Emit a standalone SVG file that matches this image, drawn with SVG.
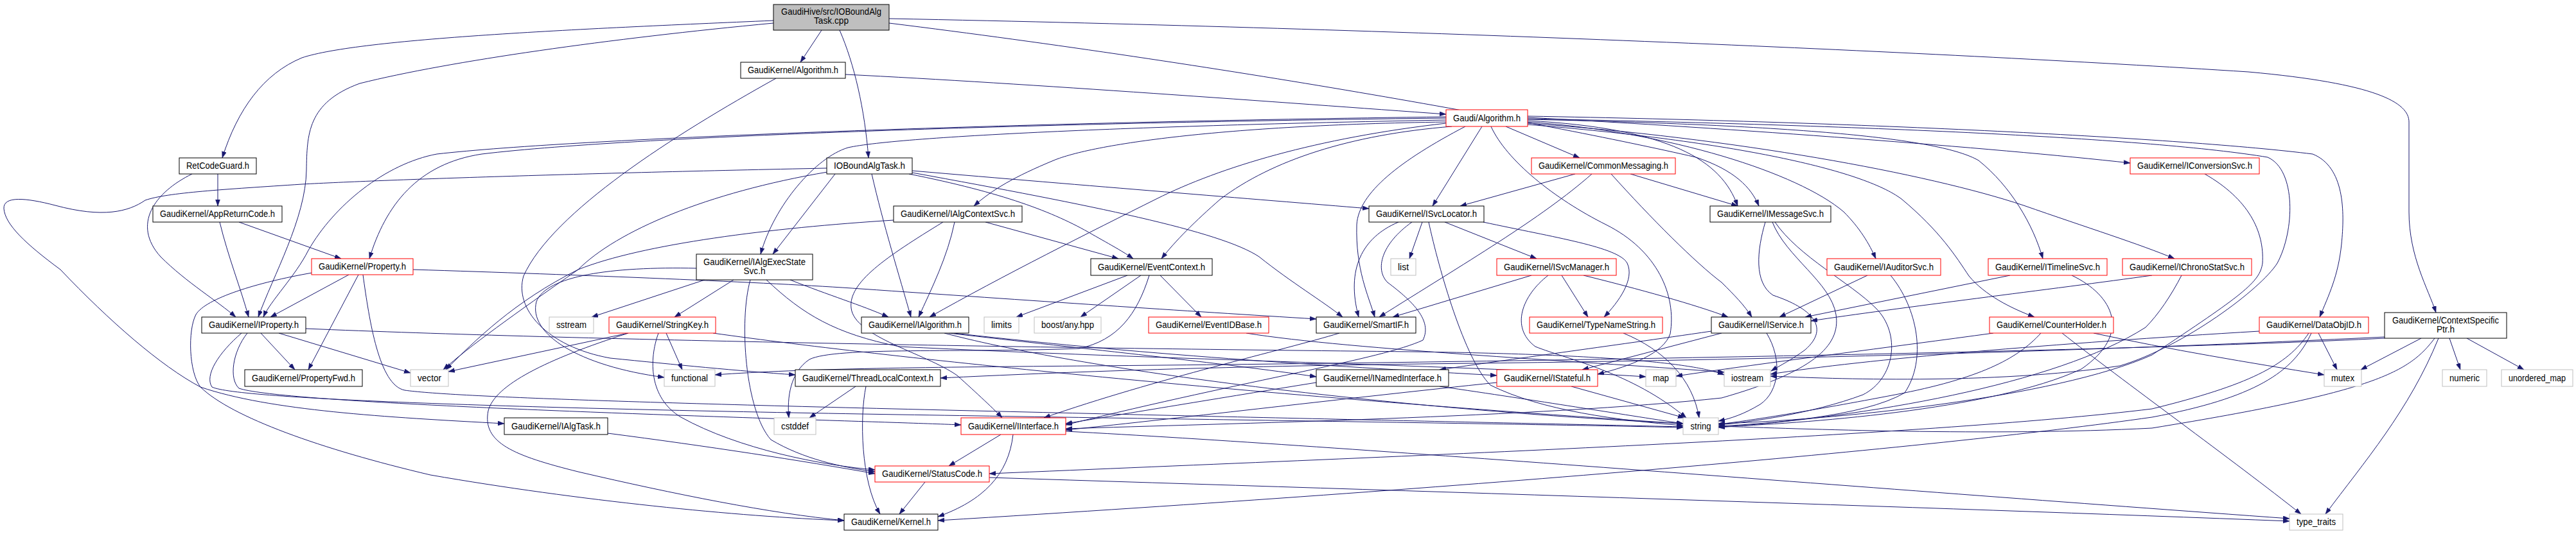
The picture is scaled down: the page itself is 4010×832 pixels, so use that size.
<svg xmlns="http://www.w3.org/2000/svg" width="4010" height="832" viewBox="0 0 4010 832">
<style>
.n rect{fill:#fff;stroke:#000;stroke-width:1}
.r rect{stroke:#f00}
.g rect{stroke:#bfbfbf}
.root rect{fill:#bfbfbf}
text{font-family:"Liberation Sans",Arial,sans-serif;font-size:14.5px;text-anchor:middle;fill:#000}
#edges path{fill:none;stroke:#191970;stroke-width:1;marker-end:url(#a)}
</style>
<defs>
<marker id="a" markerUnits="userSpaceOnUse" markerWidth="11" markerHeight="8" refX="10" refY="3.5" orient="auto"><path d="M0,0 L10,3.5 L0,7 z" fill="#191970" stroke="#191970" stroke-width="0.5"/></marker>
</defs>
<rect width="4010" height="832" fill="#fff"/>
<g id="edges">
<path d="M1279,47 L1246,97"/>
<path d="M1307,47 C1330,100 1346,170 1352,246"/>
<path d="M1204,32 C900,45 560,60 470,90 C410,115 370,170 346,246"/>
<path d="M1204,36 C950,60 700,95 560,130 C478,160 478,210 477,265 C476,340 425,430 402,494"/>
<path d="M1384,36 C1900,100 2400,190 2640,245 C2700,265 2726,292 2738,321"/>
<path d="M1384,29 C2200,45 3000,80 3500,112 C3700,130 3750,160 3750,190 L3750,330 C3750,400 3780,450 3792,487"/>
<path d="M1316,116 C1600,130 2000,160 2251,178"/>
<path d="M1208,122 C1050,210 860,330 815,430 C800,480 850,540 950,558 C1050,568 1150,578 1238,584"/>
<path d="M339,271 L339,321"/>
<path d="M299,271 C240,300 205,350 250,400 C290,440 340,470 367,494"/>
<path d="M372,346 L531,403"/>
<path d="M342,346 C355,400 375,450 387,494"/>
<path d="M543,428 L421,494"/>
<path d="M558,428 L480,576"/>
<path d="M486,425 C400,440 320,465 305,490 C292,515 294,580 312,603 C360,650 500,700 670,740 C900,780 1150,805 1314,811"/>
<path d="M565,428 C575,500 590,600 630,608 C700,618 1000,628 1600,642 C2100,654 2450,661 2620,665"/>
<path d="M643,420 C900,428 1200,440 1340,450 C1600,468 1850,485 2049,497"/>
<path d="M406,519 L459,576"/>
<path d="M434,519 L639,581"/>
<path d="M376,519 C340,550 318,585 330,603 C370,622 800,636 1400,646 C1900,654 2400,661 2620,666"/>
<path d="M385,519 C362,548 356,590 372,605 C430,625 900,642 1200,652 C1350,657 1450,660 1496,662"/>
<path d="M476,512 C900,530 1600,542 2200,548 C2500,552 2640,566 2684,584"/>
<path d="M1300,271 L1203,396"/>
<path d="M1357,271 C1375,350 1400,430 1418,494"/>
<path d="M1420,266 C1700,290 1950,310 2131,325"/>
<path d="M1415,271 C1560,300 1640,330 1700,365 C1730,382 1750,393 1764,403"/>
<path d="M1420,269 C1700,320 1900,360 1960,400 C2010,440 2060,470 2090,494"/>
<path d="M1287,262 C900,270 600,280 470,287 C350,295 260,300 226,312 C200,330 160,340 86,320 C40,308 5,305 6,325 C8,350 40,380 94,420 C170,500 250,570 312,603 C420,640 600,650 785,660"/>
<path d="M1288,268 C1100,300 960,360 900,420 C800,490 730,540 690,576"/>
<path d="M2251,190 C1900,195 1700,225 1640,250 C1580,275 1545,295 1516,321"/>
<path d="M2251,187 C1800,195 1400,212 1320,230 C1270,245 1205,320 1184,396"/>
<path d="M2251,184 C1700,190 1000,210 750,240 C650,255 600,320 575,403"/>
<path d="M2251,182 C1600,190 900,215 680,240 C600,255 520,320 480,390 C460,430 420,470 410,494"/>
<path d="M2251,192 C2050,215 1900,260 1800,310 C1700,360 1560,430 1447,494"/>
<path d="M2260,197 C2100,210 1980,250 1900,310 C1860,345 1830,375 1808,403"/>
<path d="M2281,197 C2180,250 2115,300 2112,350 C2110,420 2130,460 2140,494"/>
<path d="M2307,197 L2230,321"/>
<path d="M2344,197 L2459,246"/>
<path d="M2321,197 C2345,250 2420,310 2500,350 C2580,390 2610,460 2600,520 C2590,550 2540,570 2487,583"/>
<path d="M2378,188 C2600,200 2680,250 2705,321"/>
<path d="M2378,190 C2600,205 2800,270 2870,330 C2895,355 2910,380 2920,403"/>
<path d="M2378,186 C2800,195 3020,215 3080,250 C3130,290 3165,350 3180,403"/>
<path d="M2378,192 C2700,215 3000,270 3150,320 C3250,355 3330,380 3385,403"/>
<path d="M2378,183 C2700,200 3100,230 3316,254"/>
<path d="M2378,194 C2700,220 2900,265 2960,310 C3020,360 3045,400 3065,430 C3090,460 3130,480 3167,494"/>
<path d="M2378,181 C2900,190 3400,215 3600,240 C3650,260 3650,330 3645,380 C3640,430 3625,460 3611,494"/>
<path d="M2378,185 C2900,195 3350,215 3530,245 C3575,265 3572,360 3545,410 C3520,450 3400,540 3300,570 C3100,600 2850,590 2756,586"/>
<path d="M2452,271 L2273,321"/>
<path d="M2538,271 L2705,321"/>
<path d="M2478,271 C2400,340 2280,410 2147,494"/>
<path d="M2508,271 C2570,340 2640,410 2680,440 C2700,460 2715,475 2727,494"/>
<path d="M2214,346 L2194,403"/>
<path d="M2177,346 C2120,370 2095,420 2115,494"/>
<path d="M2198,346 C2150,380 2140,420 2160,440 C2200,470 2230,500 2215,530 C2150,560 1950,590 1659,662"/>
<path d="M2224,346 C2240,420 2280,560 2320,600 C2400,640 2520,655 2620,663"/>
<path d="M2249,346 L2392,403"/>
<path d="M2309,346 C2420,370 2520,385 2533,410 C2545,435 2520,470 2497,494"/>
<path d="M2384,429 L2168,494"/>
<path d="M2431,429 L2472,494"/>
<path d="M2465,429 C2550,450 2640,475 2690,494"/>
<path d="M2410,429 C2370,460 2350,510 2390,540 C2440,560 2540,580 2625,651"/>
<path d="M2748,346 C2735,390 2730,440 2760,460 C2820,480 2850,510 2810,545 C2790,560 2770,570 2757,578"/>
<path d="M2759,346 C2780,400 2850,440 2858,490 C2866,540 2820,580 2680,620 C2400,650 1900,660 1659,668"/>
<path d="M2763,346 C2800,400 2880,440 2920,480 C2960,520 2950,590 2900,615 C2820,645 2720,658 2675,662"/>
<path d="M2664,516 C2500,540 2350,560 2241,576"/>
<path d="M2680,519 L2463,576"/>
<path d="M2750,519 C2775,560 2770,610 2740,630 C2715,645 2695,652 2675,656"/>
<path d="M2907,429 L2770,494"/>
<path d="M2943,429 C2985,480 3000,560 2965,612 C2900,650 2750,660 2675,664"/>
<path d="M3129,429 L2810,494"/>
<path d="M3225,429 C3290,460 3320,520 3240,575 C3100,640 2800,660 2675,665"/>
<path d="M3350,429 C3200,450 2950,480 2819,500"/>
<path d="M3396,429 C3380,460 3360,490 3340,510 C3200,600 2900,650 2675,666"/>
<path d="M3432,271 C3500,310 3525,360 3522,410 C3518,440 3490,460 3350,553 C3200,620 2850,655 2675,660"/>
<path d="M3103,519 C2950,540 2750,565 2609,586"/>
<path d="M3177,519 C3140,560 3080,590 2950,615 C2820,640 2720,656 2675,661"/>
<path d="M3259,519 C3380,545 3500,565 3618,584"/>
<path d="M3210,519 C3300,590 3480,720 3582,801"/>
<path d="M3609,519 L3638,576"/>
<path d="M3594,519 C3560,570 3500,600 3350,637 C3000,680 2200,710 1540,738"/>
<path d="M3598,519 C3570,580 3510,620 3350,650 C3000,700 2300,760 1460,811"/>
<path d="M3517,516 C3200,535 2900,560 2756,583"/>
<path d="M3769,527 L3675,576"/>
<path d="M3813,527 L3830,576"/>
<path d="M3840,527 L3929,576"/>
<path d="M3796,527 C3750,640 3680,720 3620,801"/>
<path d="M3712,525 C3300,545 2800,560 2300,566 C1900,570 1650,580 1464,589"/>
<path d="M3712,527 C3300,548 2300,565 1700,570 C1450,572 1250,574 1113,584"/>
<path d="M3790,527 C3750,580 3700,610 3350,667 C3100,680 2800,668 2675,664"/>
<path d="M1097,436 L921,494"/>
<path d="M1142,436 L1050,494"/>
<path d="M1168,436 C1150,500 1160,640 1200,685 C1250,715 1310,728 1362,735"/>
<path d="M1230,436 C1290,460 1340,475 1383,494"/>
<path d="M1193,436 C1250,490 1300,520 1400,540 C1800,560 2300,570 2562,587"/>
<path d="M1084,418 C950,415 850,430 835,470 C822,520 900,570 1034,588"/>
<path d="M1486,346 C1475,400 1450,450 1430,494"/>
<path d="M1534,346 L1741,403"/>
<path d="M1391,343 C1200,355 1000,380 900,420 C800,470 740,530 694,576"/>
<path d="M1468,346 C1380,400 1320,440 1325,480 C1330,525 1440,550 1490,585 C1520,612 1550,640 1560,651"/>
<path d="M1755,429 L1582,494"/>
<path d="M1776,429 L1682,494"/>
<path d="M1806,429 L1870,494"/>
<path d="M1789,429 C1770,490 1740,530 1680,543 C1500,550 1300,540 1260,560 C1230,580 1225,620 1228,651"/>
<path d="M1940,519 C2100,545 2500,565 2684,580"/>
<path d="M1477,519 C1700,545 1900,565 2049,587"/>
<path d="M1485,519 C1800,555 2100,572 2330,585"/>
<path d="M1470,519 C1700,580 2200,640 2620,660"/>
<path d="M2085,519 C2000,545 1800,590 1625,651"/>
<path d="M2049,596 C1900,620 1750,645 1659,660"/>
<path d="M2241,602 C2400,625 2520,645 2620,660"/>
<path d="M2330,596 C2100,620 1850,650 1659,670"/>
<path d="M2446,602 L2622,651"/>
<path d="M2527,519 C2590,545 2635,590 2645,651"/>
<path d="M978,519 L698,579"/>
<path d="M1037,519 L1062,576"/>
<path d="M1110,519 C1400,560 2000,620 2620,660"/>
<path d="M978,519 C850,560 770,600 760,640 C750,690 800,710 900,735 C1050,770 1200,800 1314,811"/>
<path d="M1025,519 C1010,560 1010,620 1060,650 C1150,700 1280,725 1362,732"/>
<path d="M1348,602 C1338,650 1340,750 1370,801"/>
<path d="M1332,602 L1260,651"/>
<path d="M946,675 C1100,695 1250,718 1362,738"/>
<path d="M1558,677 L1477,726"/>
<path d="M1577,677 C1570,740 1530,780 1460,805"/>
<path d="M1659,672 C2100,695 2900,760 3564,808"/>
<path d="M1440,751 L1400,801"/>
<path d="M1540,744 C2200,765 3000,790 3564,812"/>
</g>
<g id="n-root" class="n root"><rect x="1204" y="7" width="180" height="40"/><text x="1294" y="23" textLength="156" lengthAdjust="spacingAndGlyphs">GaudiHive/src/IOBoundAlg</text><text x="1294" y="37" textLength="54" lengthAdjust="spacingAndGlyphs">Task.cpp</text></g>
<g id="n-gkalg" class="n"><rect x="1153" y="97" width="163" height="25"/><text x="1234.5" y="114" textLength="141" lengthAdjust="spacingAndGlyphs">GaudiKernel/Algorithm.h</text></g>
<g id="n-iot" class="n"><rect x="1287" y="246" width="133" height="25"/><text x="1353.5" y="263" textLength="111" lengthAdjust="spacingAndGlyphs">IOBoundAlgTask.h</text></g>
<g id="n-rcg" class="n"><rect x="279" y="246" width="120" height="25"/><text x="339" y="263" textLength="98" lengthAdjust="spacingAndGlyphs">RetCodeGuard.h</text></g>
<g id="n-arc" class="n"><rect x="238" y="321" width="201" height="25"/><text x="338.5" y="338" textLength="179" lengthAdjust="spacingAndGlyphs">GaudiKernel/AppReturnCode.h</text></g>
<g id="n-prop" class="n r"><rect x="485" y="403" width="158" height="25"/><text x="564" y="420" textLength="136" lengthAdjust="spacingAndGlyphs">GaudiKernel/Property.h</text></g>
<g id="n-iprop" class="n"><rect x="314" y="494" width="162" height="25"/><text x="395" y="511" textLength="140" lengthAdjust="spacingAndGlyphs">GaudiKernel/IProperty.h</text></g>
<g id="n-pfwd" class="n"><rect x="381" y="576" width="183" height="26"/><text x="472.5" y="593.5" textLength="161" lengthAdjust="spacingAndGlyphs">GaudiKernel/PropertyFwd.h</text></g>
<g id="n-vector" class="n g"><rect x="639" y="576" width="59" height="26"/><text x="668.5" y="593.5" textLength="37" lengthAdjust="spacingAndGlyphs">vector</text></g>
<g id="n-iaes" class="n"><rect x="1084" y="396" width="181" height="40"/><text x="1174.5" y="412.5" textLength="159" lengthAdjust="spacingAndGlyphs">GaudiKernel/IAlgExecState</text><text x="1174.5" y="427" textLength="34" lengthAdjust="spacingAndGlyphs">Svc.h</text></g>
<g id="n-sstream" class="n g"><rect x="855" y="494" width="69" height="25"/><text x="889.5" y="511" textLength="47" lengthAdjust="spacingAndGlyphs">sstream</text></g>
<g id="n-stringkey" class="n r"><rect x="948" y="494" width="166" height="25"/><text x="1031" y="511" textLength="144" lengthAdjust="spacingAndGlyphs">GaudiKernel/StringKey.h</text></g>
<g id="n-functional" class="n g"><rect x="1034" y="576" width="79" height="26"/><text x="1073.5" y="593.5" textLength="57" lengthAdjust="spacingAndGlyphs">functional</text></g>
<g id="n-tlc" class="n"><rect x="1238" y="576" width="226" height="26"/><text x="1351" y="593.5" textLength="204" lengthAdjust="spacingAndGlyphs">GaudiKernel/ThreadLocalContext.h</text></g>
<g id="n-ialgtask" class="n"><rect x="785" y="651" width="161" height="26"/><text x="865.5" y="668.5" textLength="139" lengthAdjust="spacingAndGlyphs">GaudiKernel/IAlgTask.h</text></g>
<g id="n-cstddef" class="n g"><rect x="1205" y="651" width="65" height="26"/><text x="1237.5" y="668.5" textLength="43" lengthAdjust="spacingAndGlyphs">cstddef</text></g>
<g id="n-kernel" class="n"><rect x="1314" y="801" width="146" height="25"/><text x="1387" y="818" textLength="124" lengthAdjust="spacingAndGlyphs">GaudiKernel/Kernel.h</text></g>
<g id="n-ialgctx" class="n"><rect x="1391" y="321" width="200" height="25"/><text x="1491" y="338" textLength="178" lengthAdjust="spacingAndGlyphs">GaudiKernel/IAlgContextSvc.h</text></g>
<g id="n-ec" class="n"><rect x="1698" y="403" width="189" height="26"/><text x="1792.5" y="420.5" textLength="167" lengthAdjust="spacingAndGlyphs">GaudiKernel/EventContext.h</text></g>
<g id="n-ialg" class="n"><rect x="1341" y="494" width="167" height="25"/><text x="1424.5" y="511" textLength="145" lengthAdjust="spacingAndGlyphs">GaudiKernel/IAlgorithm.h</text></g>
<g id="n-limits" class="n g"><rect x="1532" y="494" width="54" height="25"/><text x="1559" y="511" textLength="32" lengthAdjust="spacingAndGlyphs">limits</text></g>
<g id="n-boost" class="n g"><rect x="1610" y="494" width="104" height="25"/><text x="1662" y="511" textLength="82" lengthAdjust="spacingAndGlyphs">boost/any.hpp</text></g>
<g id="n-eidb" class="n r"><rect x="1788" y="494" width="187" height="25"/><text x="1881.5" y="511" textLength="165" lengthAdjust="spacingAndGlyphs">GaudiKernel/EventIDBase.h</text></g>
<g id="n-iint" class="n r"><rect x="1496" y="651" width="163" height="26"/><text x="1577.5" y="668.5" textLength="141" lengthAdjust="spacingAndGlyphs">GaudiKernel/IInterface.h</text></g>
<g id="n-sc" class="n r"><rect x="1362" y="726" width="178" height="25"/><text x="1451" y="743" textLength="156" lengthAdjust="spacingAndGlyphs">GaudiKernel/StatusCode.h</text></g>
<g id="n-ga" class="n r"><rect x="2251" y="171" width="127" height="26"/><text x="2314.5" y="188.5" textLength="105" lengthAdjust="spacingAndGlyphs">Gaudi/Algorithm.h</text></g>
<g id="n-cm" class="n r"><rect x="2384" y="246" width="224" height="25"/><text x="2496" y="263" textLength="202" lengthAdjust="spacingAndGlyphs">GaudiKernel/CommonMessaging.h</text></g>
<g id="n-isl" class="n"><rect x="2131" y="321" width="179" height="25"/><text x="2220.5" y="338" textLength="157" lengthAdjust="spacingAndGlyphs">GaudiKernel/ISvcLocator.h</text></g>
<g id="n-list" class="n g"><rect x="2165" y="403" width="39" height="26"/><text x="2184.5" y="420.5" textLength="17" lengthAdjust="spacingAndGlyphs">list</text></g>
<g id="n-ism" class="n r"><rect x="2330" y="403" width="186" height="26"/><text x="2423" y="420.5" textLength="164" lengthAdjust="spacingAndGlyphs">GaudiKernel/ISvcManager.h</text></g>
<g id="n-imsg" class="n"><rect x="2662" y="321" width="188" height="25"/><text x="2756" y="338" textLength="166" lengthAdjust="spacingAndGlyphs">GaudiKernel/IMessageSvc.h</text></g>
<g id="n-sif" class="n"><rect x="2049" y="494" width="155" height="25"/><text x="2126.5" y="511" textLength="133" lengthAdjust="spacingAndGlyphs">GaudiKernel/SmartIF.h</text></g>
<g id="n-tns" class="n r"><rect x="2381" y="494" width="207" height="25"/><text x="2484.5" y="511" textLength="185" lengthAdjust="spacingAndGlyphs">GaudiKernel/TypeNameString.h</text></g>
<g id="n-isvc" class="n"><rect x="2664" y="494" width="155" height="25"/><text x="2741.5" y="511" textLength="133" lengthAdjust="spacingAndGlyphs">GaudiKernel/IService.h</text></g>
<g id="n-ini" class="n"><rect x="2049" y="576" width="206" height="26"/><text x="2152" y="593.5" textLength="184" lengthAdjust="spacingAndGlyphs">GaudiKernel/INamedInterface.h</text></g>
<g id="n-istf" class="n r"><rect x="2330" y="576" width="157" height="26"/><text x="2408.5" y="593.5" textLength="135" lengthAdjust="spacingAndGlyphs">GaudiKernel/IStateful.h</text></g>
<g id="n-map" class="n g"><rect x="2562" y="576" width="47" height="26"/><text x="2585.5" y="593.5" textLength="25" lengthAdjust="spacingAndGlyphs">map</text></g>
<g id="n-string" class="n g"><rect x="2620" y="651" width="55" height="26"/><text x="2647.5" y="668.5" textLength="32" lengthAdjust="spacingAndGlyphs">string</text></g>
<g id="n-iaud" class="n r"><rect x="2844" y="403" width="177" height="26"/><text x="2932.5" y="420.5" textLength="155" lengthAdjust="spacingAndGlyphs">GaudiKernel/IAuditorSvc.h</text></g>
<g id="n-itl" class="n r"><rect x="3095" y="403" width="185" height="26"/><text x="3187.5" y="420.5" textLength="163" lengthAdjust="spacingAndGlyphs">GaudiKernel/ITimelineSvc.h</text></g>
<g id="n-ics" class="n r"><rect x="3304" y="403" width="201" height="26"/><text x="3404.5" y="420.5" textLength="179" lengthAdjust="spacingAndGlyphs">GaudiKernel/IChronoStatSvc.h</text></g>
<g id="n-icnv" class="n r"><rect x="3316" y="246" width="201" height="25"/><text x="3416.5" y="263" textLength="179" lengthAdjust="spacingAndGlyphs">GaudiKernel/IConversionSvc.h</text></g>
<g id="n-iostream" class="n g"><rect x="2684" y="576" width="72" height="26"/><text x="2720" y="593.5" textLength="50" lengthAdjust="spacingAndGlyphs">iostream</text></g>
<g id="n-ch" class="n r"><rect x="3097" y="494" width="193" height="25"/><text x="3193.5" y="511" textLength="171" lengthAdjust="spacingAndGlyphs">GaudiKernel/CounterHolder.h</text></g>
<g id="n-doid" class="n r"><rect x="3517" y="494" width="170" height="25"/><text x="3602" y="511" textLength="148" lengthAdjust="spacingAndGlyphs">GaudiKernel/DataObjID.h</text></g>
<g id="n-csp" class="n"><rect x="3712" y="487" width="190" height="40"/><text x="3807" y="503.5" textLength="166" lengthAdjust="spacingAndGlyphs">GaudiKernel/ContextSpecific</text><text x="3807" y="517.5" textLength="28" lengthAdjust="spacingAndGlyphs">Ptr.h</text></g>
<g id="n-mutex" class="n g"><rect x="3618" y="576" width="58" height="26"/><text x="3647" y="593.5" textLength="36" lengthAdjust="spacingAndGlyphs">mutex</text></g>
<g id="n-numeric" class="n g"><rect x="3802" y="576" width="69" height="26"/><text x="3836.5" y="593.5" textLength="47" lengthAdjust="spacingAndGlyphs">numeric</text></g>
<g id="n-umap" class="n g"><rect x="3894" y="576" width="111" height="26"/><text x="3949.5" y="593.5" textLength="89" lengthAdjust="spacingAndGlyphs">unordered_map</text></g>
<g id="n-tt" class="n g"><rect x="3564" y="801" width="83" height="25"/><text x="3605.5" y="818" textLength="61" lengthAdjust="spacingAndGlyphs">type_traits</text></g>
</svg>
